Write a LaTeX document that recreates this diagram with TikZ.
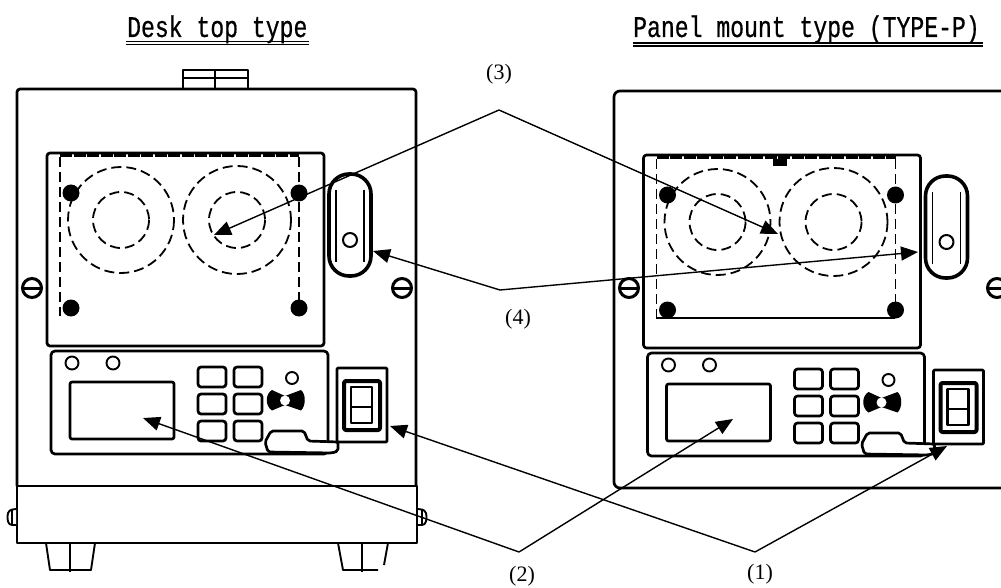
\documentclass[tikz,border=0pt]{standalone}
\usepackage{fontspec}
\usetikzlibrary{arrows.meta}
\newfontfamily\titlefont[FakeStretch=0.77,FakeBold=0.6]{Liberation Mono}
\newfontfamily\lblfont{Liberation Serif}
\tikzset{
  x=1pt,y=-1pt,
  ln/.style={draw=black,line width=1.9pt},
  hv/.style={draw=black,line width=2.7pt},
  dsh/.style={draw=black,line width=1.8pt,dash pattern=on 10pt off 5pt},
  topdsh/.style={draw=black,line width=2.8pt,dash pattern=on 12pt off 1.5pt},
  ldr/.style={draw=black,line width=1.4pt,-{Triangle[length=17pt,width=14pt]}},
  titletxt/.style={font=\titlefont\fontsize{30}{30}\selectfont,inner sep=0pt,anchor=base west},
  lbl/.style={font=\lblfont\fontsize{22}{22}\selectfont,inner sep=0pt},
  dbl/.style={draw=black,line width=1.4pt}
}
\newcommand{\screw}[2]{%
  \draw[line width=3pt,fill=white] (#1,#2) circle (9.5);
  \draw[line width=3pt] (#1-9,#2) -- (#1+9,#2);
}
\newcommand{\devicefront}{%
  % upper panel
  \draw[hv,rounded corners=3pt] (47,153) rectangle (324,346);
  \draw[dsh] (60,157) -- (60,316);
  \draw[dsh] (299,157) -- (299,316);
  \draw[topdsh] (60,155.5) -- (299,155.5);
  \draw[dsh] (121,220) circle (53);
  \draw[dsh] (121,220) circle (28);
  \draw[dsh] (237,220) circle (54);
  \draw[dsh] (237,220) circle (28);
  \foreach \px/\py in {71/193,299/193,71/308,299/308} \fill (\px,\py) circle (8.5);
  % handle
  \draw[line width=3.6pt,rounded corners=20pt] (329,174) rectangle (371,276);
  \draw[ln] (336,190) -- (336,262);
  \draw[ln] (364,190) -- (364,262);
  \draw[line width=2pt] (350,240) circle (7);
  % lower panel
  \draw[hv,rounded corners=4pt] (51,351) rectangle (328,454);
  \draw[ln] (72,363) circle (6.5);
  \draw[ln] (113,363) circle (6.5);
  \draw[hv,rounded corners=2pt] (70,382) rectangle (174,439);
  \foreach \bx in {198,234}
    \foreach \by in {367,394,421}
      \draw[hv,rounded corners=3pt] (\bx,\by) rectangle (\bx+28,\by+20);
  \draw[ln] (292,378) circle (6);
  \fill (285,396) -- (272,390) .. controls (265,394) and (265,406) .. (272,410.5) -- (285,405)
        -- (301,410.5) .. controls (306,406) and (306,394) .. (301,390) -- cycle;
  \fill[white] (285,400.5) circle (5);
  % tab
  \draw[hv,fill=white,rounded corners=2pt] (268,452) -- (265,442) -- (271,431) -- (304,431) -- (308,441) -- (338,442) -- (338,451) -- (332,453) -- cycle;
  % switch
  \draw[hv,fill=white,rounded corners=1pt] (337,368) rectangle (387,442);
  \draw[line width=4pt,rounded corners=2pt] (344,381) rectangle (380,430);
  \draw[line width=2.6pt] (351,387) rectangle (372,423);
  \draw[line width=2.4pt] (351,407) -- (372,407);
}
\begin{document}
\begin{tikzpicture}[line join=round]
\useasboundingbox (0,0) rectangle (1001,588);
\begin{scope}
  \clip (0,0) rectangle (1001,588);
  % left device
  \draw[hv,rounded corners=3pt] (17,486) -- (17,89) -- (416,89) -- (416,486);
  \draw[hv] (183,88) -- (183,70) -- (248,70) -- (248,88);
  \draw[ln] (183,78) -- (248,78);
  \draw[ln] (215,70) -- (215,88);
  \draw[line width=2.6pt] (17,486) rectangle (417,543);
  \draw[ln] (46,543) -- (50,570) -- (91,570) -- (95,543);
  \draw[ln] (70,543) -- (70,572);
  \draw[ln] (338,543) -- (343,570) -- (378,570);
  \draw[ln] (362,543) -- (362,572);
  \draw[ln] (388,543) -- (384,565);
  \draw[ln,fill=white,rounded corners=3pt] (16,509) -- (9,510) -- (7,517) -- (9,525) -- (16,525);
  \draw[ln] (12,510) -- (12,525);
  \draw[ln,fill=white,rounded corners=3pt] (418,509) -- (425,510) -- (427,517) -- (425,525) -- (418,525);
  \draw[ln] (422,510) -- (422,525);
  \screw{32}{288}
  \screw{402}{288}
  \devicefront
  % right device
  \draw[hv,rounded corners=6pt] (1010,91) -- (614,91) -- (614,488) -- (1010,488);
  \screw{629}{288}
  \screw{997}{288}
  \begin{scope}[shift={(596.5,2)}]
    \devicefront
  \end{scope}
  \fill (773,159) rectangle (787,166);
  \draw[ln] (656,318) -- (895,318);
  % leaders
  \coordinate (apex3) at (499,110);
  \coordinate (apex4) at (500,290);
  \coordinate (apex2) at (519,552);
  \coordinate (apex1) at (755,552);
  \coordinate (t3a) at (214,235);
  \coordinate (t3b) at (778,234);
  \coordinate (t4a) at (373,251);
  \coordinate (t4b) at (918,252);
  \coordinate (t2a) at (143,418);
  \coordinate (t2b) at (733,419);
  \coordinate (t1a) at (390,426);
  \coordinate (t1b) at (947,446);
  \draw[ldr] (apex3) -- (t3a);
  \draw[ldr] (apex3) -- (t3b);
  \draw[ldr] (apex4) -- (t4a);
  \draw[ldr] (apex4) -- (t4b);
  \draw[ldr] (apex2) -- (t2a);
  \draw[ldr] (apex2) -- (t2b);
  \draw[ldr] (apex1) -- (t1a);
  \draw[ldr] (apex1) -- (t1b);
\end{scope}
% labels
\node[lbl] (l3) at (499,74) {(3)};
\node[lbl] (l4) at (518,319) {(4)};
\node[lbl] (l2) at (522,576) {(2)};
\node[lbl] (l1) at (760,574) {(1)};
% titles
\node[titletxt] (t1) at (127,37) {Desk top type};
\node[titletxt] (t2) at (633,37) {Panel mount type (TYPE-P)};
\draw[dbl] (126,41.5) -- (309,41.5);
\draw[dbl] (126,44.5) -- (309,44.5);
\draw[dbl] (633,43) -- (983,43);
\draw[dbl] (633,46) -- (983,46);
\end{tikzpicture}
\end{document}
